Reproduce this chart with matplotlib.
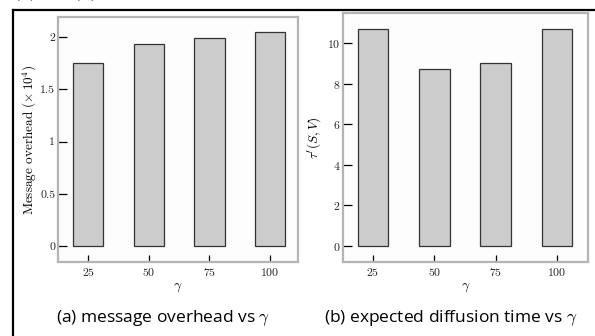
import matplotlib
matplotlib.use("Agg")
import matplotlib.pyplot as plt
from matplotlib.lines import Line2D

gamma = [25, 50, 75, 100]
overhead = [1.75, 1.93, 1.99, 2.05]      # message overhead (x10^4)
diffusion = [10.69, 8.72, 9.01, 10.69]   # tau'(S, V)

plt.rcParams['mathtext.fontset'] = 'cm'
plt.rcParams['axes.formatter.use_mathtext'] = True

W, H = 595, 336
fig = plt.figure(figsize=(W / 100, H / 100), dpi=100)
fig.patch.set_facecolor('white')


def px_axes(x0, x1, ytop, ybot):
    return fig.add_axes([x0 / W, 1 - ybot / H, (x1 - x0) / W, (ybot - ytop) / H])


def style(ax):
    ax.set_facecolor('#fdfdfd')
    for s in ax.spines.values():
        s.set_color('#b4b4b4')
        s.set_linewidth(1.6)
    ax.tick_params(direction='in', length=6.5, width=0.9, color='black',
                   labelsize=8.5, pad=2, labelcolor='#222233')
    ax.tick_params(axis='x', length=5, pad=3)
    for lab in ax.get_xticklabels() + ax.get_yticklabels():
        lab.set_family('cmr10')
    ax.set_xlabel(r'$\gamma$', fontsize=10, labelpad=1)


ax1 = px_axes(58, 298, 17, 262)
ax1.bar(gamma, overhead, width=12.5, color='#cccccc', edgecolor='#333333', linewidth=0.9)
ax1.set_xlim(12.6, 111.5)
ax1.set_ylim(-0.15, 2.19)
ax1.set_xticks(gamma)
ax1.set_yticks([0, 0.5, 1, 1.5, 2])
ax1.set_yticklabels(['0', '0.5', '1', '1.5', '2'])
style(ax1)
ax1.set_ylabel(r'Message overhead $(\times\,10^4)$', family='cmr10', fontsize=9.5, labelpad=1)

ax2 = px_axes(343, 588, 13, 262)
ax2.bar(gamma, diffusion, width=12.5, color='#cccccc', edgecolor='#333333', linewidth=0.9)
ax2.set_xlim(12.8, 112.6)
ax2.set_ylim(-0.79, 11.48)
ax2.set_xticks(gamma)
ax2.set_yticks([0, 2, 4, 6, 8, 10])
style(ax2)
ax2.set_ylabel(r"$\tau'(S,V)$", fontsize=9.5, labelpad=3)

# captions
fig.text(163 / W, 1 - 318 / H, r'(a) message overhead vs $\gamma$',
         family='Open Sans', fontsize=12.5, ha='center', va='center')
fig.text(451 / W, 1 - 318 / H, r'(b) expected diffusion time vs $\gamma$',
         family='Open Sans', fontsize=12.5, ha='center', va='center')

# cut-off text line at top of screenshot (only its lower edge shows)
fig.text(15 / W, 1 + 2 / H, '(a) and (b).', family='Open Sans', fontsize=12.5,
         ha='left', va='baseline')

# outer black frame of the screenshot
fig.add_artist(Line2D([12.5 / W, 1], [1 - 9.5 / H, 1 - 9.5 / H], color='black', lw=1.6,
                      transform=fig.transFigure))
fig.add_artist(Line2D([12.5 / W, 12.5 / W], [0, 1 - 9.5 / H], color='black', lw=1.6,
                      transform=fig.transFigure))

fig.savefig('out.png', dpi=100)
